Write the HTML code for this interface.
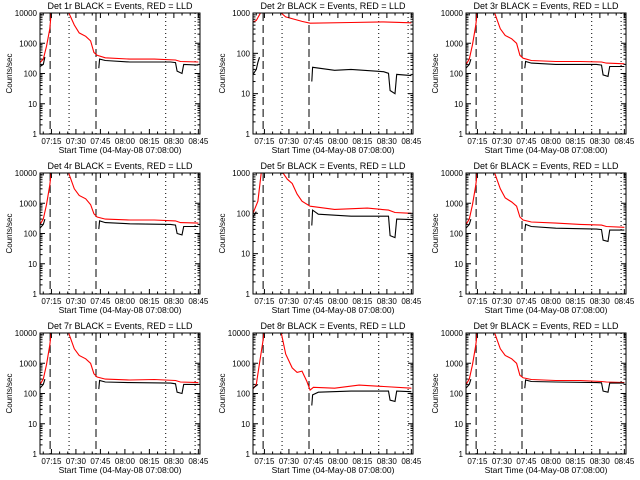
<!DOCTYPE html>
<html><head><meta charset="utf-8"><style>
body{margin:0;background:#fff;}
svg{display:block;font-family:"Liberation Sans",sans-serif;}
</style></head><body>
<svg id="c" width="640" height="480" viewBox="0 0 640 480"></svg>
<script>
const titles=["Det 1r","Det 2r","Det 3r","Det 4r","Det 5r","Det 6r","Det 7r","Det 8r","Det 9r"];
const decades=[4,3,4,4,3,4,4,4,4];
const xTickLabels=["07:15","07:30","07:45","08:00","08:15","08:30","08:45"];
const xTickMins=[7,22,37,52,67,82,97];
const dashedMins=[6.2,34.3];
const dottedMins=[17.8,77,95];
const red=[
[[0,230],[2,300],[4,800],[6,3000],[7,12000],[null],[17,12000],[21,4000],[24,2200],[28,1700],[31,1200],[33,500],[35,400],[40,330],[55,300],[70,300],[83,280],[86,250],[97,240]],
[[0,600],[2,650],[4,900],[5,1100],[null],[16,1100],[20,800],[30,620],[35,560],[60,580],[80,600],[97,570]],
[[0,200],[2,300],[4,900],[6,4000],[7,12000],[null],[17,12000],[21,3000],[24,1800],[28,1400],[31,1000],[33,400],[35,320],[40,270],[55,250],[70,250],[83,240],[86,220],[97,210]],
[[0,200],[2,300],[4,900],[6,4000],[7,12000],[null],[17,12000],[21,3000],[24,1800],[28,1400],[31,900],[33,450],[35,350],[40,300],[55,280],[70,280],[83,260],[86,230],[97,220]],
[[0,100],[3,200],[5,1000],[6,1200],[null],[17,1200],[21,700],[24,550],[27,300],[30,200],[35,150],[50,125],[70,135],[83,120],[87,105],[97,100]],
[[0,200],[2,300],[4,900],[6,4000],[7,12000],[null],[17,12000],[21,3000],[24,1500],[28,1100],[31,800],[33,350],[35,280],[40,240],[55,220],[70,200],[83,190],[86,170],[97,160]],
[[0,200],[2,300],[4,900],[6,4000],[7,12000],[null],[17,12000],[21,3000],[24,1800],[28,1400],[31,1000],[33,450],[35,350],[40,300],[55,280],[70,290],[83,270],[86,240],[97,230]],
[[0,140],[2,200],[4,1000],[6,5000],[7,12000],[null],[17,12000],[20,2000],[24,700],[27,500],[30,550],[33,250],[35,130],[37,160],[50,150],[65,190],[80,170],[97,150]],
[[0,200],[2,300],[4,900],[6,4000],[7,12000],[null],[17,12000],[21,3000],[24,1800],[28,1400],[31,1000],[33,400],[35,330],[40,290],[55,270],[70,270],[83,250],[86,240],[97,230]]
];
const black=[
[[0,170],[2,200],[3,350],[null],[36,150],[36.5,300],[40,270],[55,240],[80,240],[83,230],[84,120],[87,100],[88,200],[97,190]],
[[0,30],[2,40],[3,60],[4,80],[null],[36,20],[36.5,45],[50,38],[60,40],[80,35],[83,32],[84,12],[87,10],[88,30],[97,28]],
[[0,150],[2,200],[3,300],[null],[36,150],[36.5,250],[40,220],[55,200],[80,200],[83,190],[84,90],[87,80],[88,170],[97,170]],
[[0,150],[2,200],[3,300],[null],[36,140],[36.5,260],[40,230],[55,210],[80,200],[83,190],[84,100],[87,90],[88,170],[97,170]],
[[0,80],[2,110],[null],[36,50],[36.5,120],[40,95],[60,85],[83,85],[84,28],[87,25],[88,72],[97,70]],
[[0,150],[2,200],[3,300],[null],[36,120],[36.5,200],[40,170],[55,150],[80,140],[83,135],[84,60],[87,55],[88,130],[97,130]],
[[0,150],[2,200],[3,300],[null],[36,140],[36.5,270],[40,240],[55,230],[80,220],[83,210],[84,110],[87,100],[88,200],[97,200]],
[[0,150],[3,200],[null],[36,40],[36.5,90],[40,110],[60,120],[83,120],[84,60],[87,55],[88,120],[97,115]],
[[0,150],[2,200],[3,300],[null],[36,150],[36.5,280],[40,250],[55,240],[80,230],[83,225],[84,120],[87,110],[88,220],[97,220]]
];
const NS="http://www.w3.org/2000/svg";
const svg=document.getElementById('c');
function mk(tag,at,parent){const e=document.createElementNS(NS,tag);for(const k in at)e.setAttribute(k,at[k]);(parent||svg).appendChild(e);return e;}
for(let p=0;p<9;p++){
  const ox=(p%3)*213, oy=Math.floor(p/3)*160;
  const L=ox+40,R=ox+200,T=oy+13,B=oy+134;
  const nd=decades[p];
  const g=mk('g',{});
  
  
  const xs=m=>L+m*(R-L)/98;
  const ys=v=>B-Math.log10(Math.max(v,1))*(B-T)/nd;
  const clipId='cl'+p;
  const cp=mk('clipPath',{id:clipId},g);mk('rect',{x:L,y:T,width:R-L,height:B-T},cp);
  dashedMins.forEach(m=>{const l=mk('line',{x1:xs(m),x2:xs(m),y1:T,y2:B,stroke:'#000','stroke-dasharray':'8,4','stroke-width':1},g);});
  dottedMins.forEach(m=>{const l=mk('line',{x1:xs(m),x2:xs(m),y1:T,y2:B,stroke:'#000','stroke-dasharray':'1,3','stroke-width':1},g);});
  [[red[p],'#f00','red-lld-line'],[black[p],'#000','black-events-line']].forEach(([arr,col,nm])=>{
    let segs=[],cur=[];
    arr.forEach(pt=>{if(pt[0]===null){if(cur.length)segs.push(cur);cur=[];}else cur.push(xs(pt[0]).toFixed(1)+','+ys(pt[1]).toFixed(1));});
    if(cur.length)segs.push(cur);
    segs.forEach(s=>{const pl=mk('polyline',{points:s.join(' '),fill:'none',stroke:col,'stroke-width':1.1,'clip-path':'url(#'+clipId+')'},g);});
  });
  const bx=mk('rect',{x:L,y:T,width:R-L,height:B-T,fill:'none',stroke:'#000','stroke-width':1},g);
  
  for(let d=0;d<=nd;d++){
    const y=ys(Math.pow(10,d));
    mk('line',{x1:L,x2:L+5,y1:y,y2:y,stroke:'#000'},g);mk('line',{x1:R,x2:R-5,y1:y,y2:y,stroke:'#000'},g);
    const t=mk('text',{x:L-3,y:y+3,'font-size':8,'text-anchor':'end'},g);t.textContent=String(Math.pow(10,d));
    
    if(d<nd)for(let k=2;k<10;k++){const yy=ys(k*Math.pow(10,d));mk('line',{x1:L,x2:L+2.5,y1:yy,y2:yy,stroke:'#000'},g);mk('line',{x1:R,x2:R-2.5,y1:yy,y2:yy,stroke:'#000'},g);}
  }
  xTickMins.forEach((m,i)=>{
    const x=xs(m);mk('line',{x1:x,x2:x,y1:B,y2:B-5,stroke:'#000'},g);mk('line',{x1:x,x2:x,y1:T,y2:T+5,stroke:'#000'},g);
    const t=mk('text',{x:x,y:B+10,'font-size':8,'text-anchor':'middle'},g);t.textContent=xTickLabels[i];
    
  });
  for(let m=2;m<98;m+=5){if(!xTickMins.includes(m)){const x=xs(m);mk('line',{x1:x,x2:x,y1:B,y2:B-2.5,stroke:'#000'},g);mk('line',{x1:x,x2:x,y1:T,y2:T+2.5,stroke:'#000'},g);}}
  const tt=mk('text',{x:(L+R)/2,y:oy+9,'font-size':9,'text-anchor':'middle'},g);tt.textContent=titles[p]+' BLACK = Events, RED = LLD';
  
  const xl=mk('text',{x:(L+R)/2,y:B+19,'font-size':8.5,'text-anchor':'middle'},g);xl.textContent='Start Time (04-May-08 07:08:00)';
  
  const yl=mk('text',{x:ox+12,y:(T+B)/2,'font-size':8,'text-anchor':'middle',transform:'rotate(-90 '+(ox+12)+' '+((T+B)/2)+')'},g);yl.textContent='Counts/sec';
  
}
</script>
</body></html>
